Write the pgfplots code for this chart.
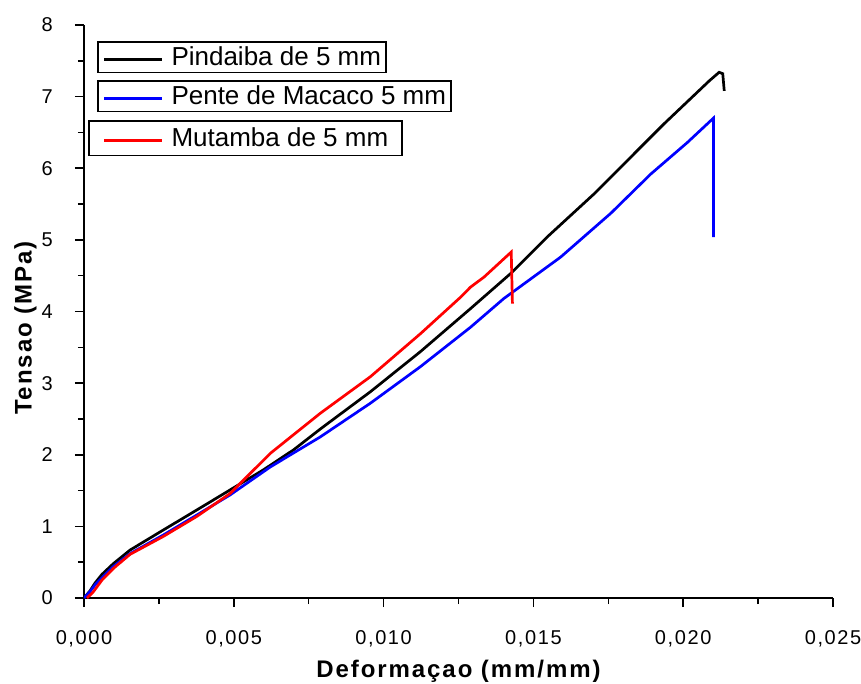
\documentclass[border=0pt]{standalone}
\usepackage{fontspec}
\setmainfont{Liberation Sans}
\newfontfamily\spaced[LetterSpace=8]{Liberation Sans}
\usepackage{pgfplots}
\pgfplotsset{compat=1.18}
\begin{document}
\begin{tikzpicture}
\useasboundingbox (-84pt,-85pt) rectangle (777pt,598pt);
\pgfplotsset{
  common/.style={
    at={(0pt,0pt)}, anchor=south west,
    scale only axis, width=749pt, height=573pt,
    xmin=0, xmax=0.025, ymin=0, ymax=8,
  },
  leg/.style={
    legend cell align=left,
    legend image code/.code={\draw[##1] (0pt,-2pt) -- (58pt,-2pt);},
    legend style={
      anchor=north west, draw=black, line width=1.6pt,
      font=\fontsize{26}{30}\selectfont,
      nodes={inner sep=0pt, text depth=2pt},
      column sep=8pt,
    },
  },
}
\begin{axis}[common, leg,
  axis lines*=left,
  axis line style={line width=1.5pt},
  tick style={line width=1.5pt, black},
  tick align=outside,
  major tick length=9pt, minor tick length=6pt,
  xtick={0,0.005,0.010,0.015,0.020,0.025},
  ytick={0,1,2,3,4,5,6,7,8},
  minor x tick num=1, minor y tick num=1,
  scaled x ticks=false,
  xticklabel style={/pgf/number format/.cd, fixed, fixed zerofill, precision=3, use comma, assume math mode=true, /tikz/.cd,
    font=\spaced\fontsize{20}{24}\selectfont, anchor=base, inner sep=0pt, yshift=-37pt},
  yticklabel style={/pgf/number format/assume math mode=true,
    font=\spaced\fontsize{20}{24}\selectfont, anchor=east, inner sep=0pt, xshift=-22pt},
  xlabel={Deformaçao (mm/mm)},
  ylabel={Tensao (MPa)},
  xlabel style={font=\spaced\bfseries\fontsize{24}{28}\selectfont, at={(axis description cs:0.5,-0.138)}, anchor=base, inner sep=0pt},
  ylabel style={font=\spaced\bfseries\fontsize{24}{28}\selectfont, at={(axis description cs:-0.07,0.471)}, anchor=base, rotate=0, inner sep=0pt},
  legend style={at={(rel axis cs:0.01736,0.97208)}, inner xsep=5pt, inner ysep=5pt},
]
\addplot[black, line width=2.7pt] coordinates {
(0,0) (0.0002,0.10) (0.00037,0.21) (0.0006,0.33) (0.00098,0.48) (0.00154,0.67)
(0.00265,0.95) (0.00377,1.23) (0.00488,1.51) (0.00599,1.79) (0.00700,2.07)
(0.00789,2.36) (0.00956,2.88) (0.01123,3.44) (0.0129,4.04) (0.01424,4.53)
(0.01546,5.04) (0.01702,5.64) (0.01936,6.62) (0.02087,7.22) (0.0212,7.34)
(0.02132,7.32) (0.02137,7.08)
};
\addlegendentry{Pindaiba de 5 mm}
\addplot[blue, line width=2.7pt, forget plot] coordinates {
(0,0) (0.0002,0.09) (0.0004,0.20) (0.00098,0.44) (0.00154,0.62) (0.00265,0.88)
(0.00377,1.16) (0.00488,1.44) (0.00622,1.83) (0.00789,2.25) (0.00956,2.72)
(0.01123,3.23) (0.0129,3.78) (0.01401,4.18) (0.01591,4.76) (0.01758,5.37)
(0.01892,5.92) (0.02014,6.36) (0.02101,6.70) (0.02101,5.04)
};
\addplot[red, line width=2.7pt, forget plot] coordinates {
(0.0001,0) (0.0003,0.08) (0.0006,0.25) (0.001,0.42) (0.00154,0.61) (0.00265,0.86)
(0.00377,1.14) (0.00488,1.46) (0.00622,2.02) (0.00789,2.58) (0.00956,3.09)
(0.01123,3.69) (0.01257,4.20) (0.0129,4.34) (0.01335,4.48) (0.01426,4.83)
(0.01430,4.11)
};
\end{axis}
\begin{axis}[common, leg, hide axis,
  legend style={at={(rel axis cs:0.01736,0.90401)}, inner xsep=5pt, inner ysep=5pt}]
\addlegendimage{blue, line width=2.7pt}
\addlegendentry{Pente de Macaco 5 mm}
\end{axis}
\begin{axis}[common, leg, hide axis,
  legend style={at={(rel axis cs:0.00534,0.83421)}, inner xsep=14pt, inner ysep=7pt}]
\addlegendimage{red, line width=2.7pt}
\addlegendentry{Mutamba de 5 mm}
\end{axis}
\end{tikzpicture}
\end{document}
